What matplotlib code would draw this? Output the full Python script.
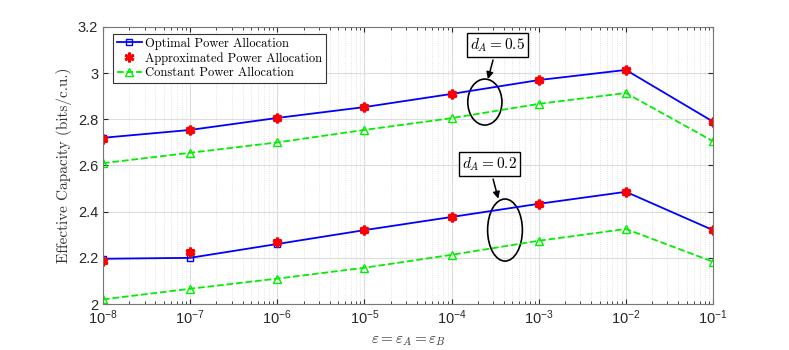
import numpy as np
from matplotlib import pyplot as plt
from matplotlib.patches import Ellipse

eps = [1e-8, 1e-7, 1e-6, 1e-5, 1e-4, 1e-3, 1e-2, 1e-1]

# d_A = 0.5
opt_05 = [2.72, 2.754, 2.806, 2.853, 2.91, 2.97, 3.014, 2.79]
apx_05 = [2.715, 2.754, 2.806, 2.853, 2.91, 2.97, 3.014, 2.79]
const_05 = [2.61, 2.655, 2.70, 2.754, 2.805, 2.867, 2.914, 2.705]

# d_A = 0.2
opt_02 = [2.196, 2.20, 2.26, 2.32, 2.377, 2.434, 2.486, 2.32]
apx_02 = [2.187, 2.226, 2.27, 2.32, 2.377, 2.434, 2.486, 2.32]
const_02 = [2.02, 2.066, 2.11, 2.157, 2.213, 2.274, 2.325, 2.183]

plt.rcParams['mathtext.fontset'] = 'cm'
plt.rcParams['axes.formatter.use_mathtext'] = True
serif = 'cmr10'

fig = plt.figure(figsize=(7.89, 3.5), dpi=100)
ax = fig.add_axes([0.1305, 0.1314, 0.7732, 0.7915])

for opt, apx, const, lab in [(opt_05, apx_05, const_05, True),
                             (opt_02, apx_02, const_02, False)]:
    ax.plot(eps, opt, '-s', color='#0000ff', lw=1.3, ms=5, mfc='none',
            label='Optimal Power Allocation' if lab else None)
    ax.plot(eps, apx, linestyle='none', marker=(6, 2, 0), color='#ff0000',
            ms=7, mew=2, label='Approximated Power Allocation' if lab else None)
    ax.plot(eps, apx, linestyle='none', marker='o', color='#ff0000', ms=5)
    ax.plot(eps, const, '--^', color='#00ee00', lw=1.3, ms=6, mfc='none',
            label='Constant Power Allocation' if lab else None)

ax.set_xscale('log')
ax.set_xlim(1e-8, 1e-1)
ax.set_ylim(2.0, 3.2)
ax.set_yticks([2.0, 2.2, 2.4, 2.6, 2.8, 3.0, 3.2])
ax.set_yticklabels(['2', '2.2', '2.4', '2.6', '2.8', '3', '3.2'])
ax.grid(True, which='major', color='#dddddd', lw=0.8)
ax.grid(True, which='minor', axis='x', color='#dddddd', lw=0.6, ls=':')
ax.set_axisbelow(True)
ax.tick_params(which='both', direction='in', top=True, right=True,
               labelsize=10.5, colors='#262626', labelcolor='#262626')
for s in ax.spines.values():
    s.set_color('#777777')
    s.set_linewidth(0.8)
for lbl in ax.get_xticklabels() + ax.get_yticklabels():
    lbl.set_fontfamily('Liberation Sans')

ax.set_ylabel('Effective Capacity (bits/c.u.)', fontfamily=serif,
              fontsize=11, color='#333333', labelpad=4)
ax.set_xlabel(r'$\varepsilon = \varepsilon_A = \varepsilon_B$', fontsize=11,
              color='#333333', labelpad=4)

leg = ax.legend(loc='upper left', bbox_to_anchor=(0.012, 0.985),
                prop={'family': serif, 'size': 9}, fancybox=False,
                edgecolor='#333333', framealpha=1, borderpad=0.3,
                labelspacing=0.2, handlelength=2.0, handletextpad=0.3,
                borderaxespad=0.2)
leg.get_frame().set_linewidth(0.8)

# annotations (axes-fraction coordinates)
box = dict(boxstyle='square,pad=0.2', fc='white', ec='black', lw=1)
arrow = dict(arrowstyle='-|>', color='black', lw=1.1, mutation_scale=10,
             shrinkA=2, shrinkB=0)
ax.add_patch(Ellipse((0.626, 0.729), 0.056, 0.166, fill=False, lw=1.2,
                     color='black', transform=ax.transAxes))
ax.annotate(r'$d_A = 0.5$', xy=(0.631, 0.812), xytext=(0.646, 0.935),
            xycoords='axes fraction', textcoords='axes fraction',
            fontsize=11, ha='center', va='center', bbox=box, arrowprops=arrow)
ax.add_patch(Ellipse((0.659, 0.267), 0.057, 0.224, fill=False, lw=1.2,
                     color='black', transform=ax.transAxes))
ax.annotate(r'$d_A = \mathbf{0.2}$', xy=(0.648, 0.38), xytext=(0.633, 0.505),
            xycoords='axes fraction', textcoords='axes fraction',
            fontsize=11, ha='center', va='center', bbox=box, arrowprops=arrow)

fig.savefig('out.png', dpi=100)
